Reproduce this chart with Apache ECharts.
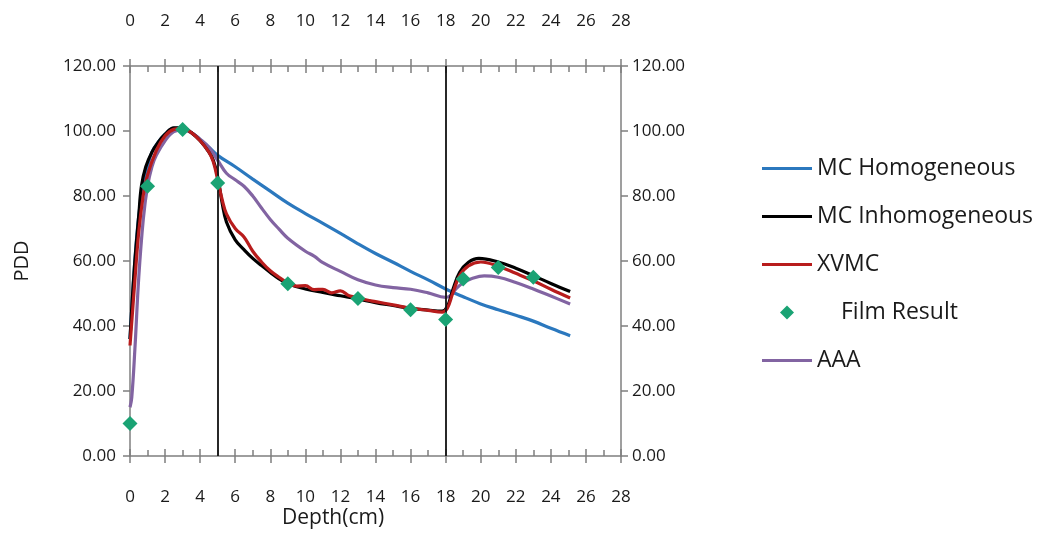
<!DOCTYPE html>
<html>
<head>
<meta charset="utf-8">
<script src="https://cdn.jsdelivr.net/npm/echarts@6/dist/echarts.min.js"></script>
<style>html,body{margin:0;padding:0;background:#fff;}#c{width:1040px;height:538px;}</style>
</head>
<body>
<div id="c"></div>
<script>
// ---- data ----
var xTicks = [0, 28, 2];          // min, max, interval of depth axis
var yTicks = [0, 120, 20];        // min, max, interval of PDD axis
var boundaryDepths = [5, 18];

var homDepth = [0, 0.25, 0.5, 0.75, 1, 1.25, 1.6, 2, 2.5, 3, 3.5, 4, 4.5, 5, 6, 7, 8, 9, 10, 11, 12, 13, 14, 15, 16, 17, 18, 19, 20, 21, 22, 23, 24, 25.1];
var homPDD   = [36, 58, 74, 83, 89, 93.5, 96.5, 99, 100.8, 100.8, 99.5, 97.3, 95, 92.5, 89, 85.2, 81.5, 77.8, 74.6, 71.6, 68.5, 65.3, 62.3, 59.6, 56.8, 54.2, 51.4, 49, 46.8, 45, 43.3, 41.5, 39.3, 37];

var inhDepth = [0, 0.25, 0.5, 0.65, 0.9, 1.25, 1.6, 2, 2.5, 3, 3.5, 4, 4.5, 4.75, 5, 5.25, 5.5, 6, 6.5, 7, 7.5, 8, 8.5, 9, 10, 11, 12, 13, 14, 15, 16, 17, 17.8, 18.1, 18.4, 18.8, 19.3, 19.9, 21, 22, 23, 24, 25.1];
var inhPDD   = [36, 58, 74, 83, 89, 93.5, 96.5, 99, 101, 101, 99.5, 97, 93.5, 91, 86, 78, 72, 66.5, 63.5, 60.8, 58.6, 56.5, 54.5, 53, 51.4, 50.3, 49.3, 48.3, 47.2, 46.3, 45.4, 44.9, 44.6, 46, 51, 56.5, 59.6, 60.8, 59.7, 57.8, 55.5, 53.1, 50.6];

var xvmcDepth = [0, 0.25, 0.5, 0.75, 1, 1.5, 2, 2.5, 3, 3.5, 4, 4.5, 4.75, 5, 5.25, 5.5, 6, 6.5, 7, 7.5, 8, 8.5, 9, 9.5, 10, 10.5, 11, 11.5, 12, 12.5, 13, 13.5, 14, 15, 16, 17, 17.8, 18.1, 18.4, 18.8, 19.3, 20, 21, 22, 23, 24, 25.1];
var xvmcPDD   = [34, 52, 69, 80, 86.5, 94, 98.5, 100.5, 100.8, 99.5, 97, 93.5, 90.5, 85, 79, 74.5, 70, 67.4, 63, 59.7, 57, 55, 53.2, 52.3, 52.4, 51.2, 51.3, 50.2, 50.8, 49.3, 48.8, 48, 47.5, 46.5, 45.5, 44.8, 44.3, 45.5, 50, 55.5, 58.5, 59.7, 58.4, 56.2, 53.9, 51.3, 48.6];

var filmDepth = [0, 1, 3, 5, 9, 13, 16, 18, 19, 21, 23];
var filmPDD   = [10, 83, 100.5, 84, 53, 48.5, 45, 42, 54.5, 58, 55];

var aaaDepth = [0, 0.1, 0.28, 0.5, 0.76, 1, 1.25, 1.5, 2, 2.5, 3, 3.5, 4, 4.5, 5, 5.5, 6, 6.5, 7, 7.5, 8, 8.5, 9, 10, 10.5, 11, 12, 13, 14, 15, 16, 17, 18, 18.3, 18.6, 19, 19.5, 20.2, 21, 22, 23, 24, 25.1];
var aaaPDD   = [15, 18, 33, 55, 73, 83, 89, 92.5, 97, 99.8, 100.3, 99.5, 97.5, 95, 91, 87, 85, 83, 80, 76.3, 72.8, 69.8, 67, 63, 61.5, 59.5, 56.8, 54.2, 52.6, 51.8, 51.3, 50.2, 48.8, 49.5, 51.5, 53.3, 54.6, 55.4, 55, 53.4, 51.4, 49.2, 46.8];

var seriesNames = ['MC Homogeneous', 'MC Inhomogeneous', 'XVMC', 'Film Result', 'AAA'];
var seriesColors = ['#2b78be', '#000000', '#b81c1c', '#1aa374', '#8264a2'];

function pairs(xs, ys) { return xs.map(function (x, i) { return [x, ys[i]]; }); }

var FONT = 'Open Sans';
var TXT = '#1a1a1a';
var AX = '#7f7f7f';
var gridRect = { left: 130, right: 419, top: 66, bottom: 82 };

function xAxisBase(grid, pos, outer) {
  return {
    type: 'value', gridIndex: grid, position: pos,
    min: xTicks[0], max: xTicks[1], interval: xTicks[2],
    splitLine: { show: false },
    axisLine: { show: outer, onZero: false, lineStyle: { color: AX, width: 1.5 } },
    axisTick: { show: true, inside: !outer, length: 7, lineStyle: { color: AX, width: 1.5 } },
    minorTick: { show: !outer, splitNumber: 2, length: 6, lineStyle: { color: AX, width: 1.5 } },
    axisLabel: { show: outer, color: TXT, fontFamily: FONT, fontSize: 17, margin: pos === 'top' ? 36 : 33 }
  };
}
function yAxisBase(grid, pos, show) {
  return {
    type: 'value', gridIndex: grid, position: pos,
    min: yTicks[0], max: yTicks[1], interval: yTicks[2],
    splitLine: { show: false },
    axisLine: { show: show, onZero: false, lineStyle: { color: AX, width: 1.5 } },
    axisTick: { show: show, length: 7, lineStyle: { color: AX, width: 1.5 } },
    axisLabel: { show: show, color: TXT, fontFamily: FONT, fontSize: 17, margin: pos === 'left' ? 14 : 11,
      formatter: function (v) { return v.toFixed(2); } }
  };
}

var yLeft = yAxisBase(0, 'left', true);
yLeft.name = 'PDD';
yLeft.nameLocation = 'middle';
yLeft.nameGap = 98;
yLeft.nameTextStyle = { color: TXT, fontFamily: FONT, fontSize: 20 };

function lineSeries(idx, xs, ys) {
  return {
    name: seriesNames[idx], type: 'line', xAxisIndex: 0, yAxisIndex: 0,
    data: pairs(xs, ys), showSymbol: false, symbol: 'none', smooth: 0.4,
    lineStyle: { color: seriesColors[idx], width: 3.2 }, itemStyle: { color: seriesColors[idx] },
    z: 3
  };
}

var sHom = lineSeries(0, homDepth, homPDD);
var sInh = lineSeries(1, inhDepth, inhPDD);
var sXv = lineSeries(2, xvmcDepth, xvmcPDD);
var sAaa = lineSeries(4, aaaDepth, aaaPDD);
sHom.z = 2; sAaa.z = 2.5; sInh.z = 3; sXv.z = 3.5;
sHom.markLine = {
  silent: true, symbol: 'none', label: { show: false },
  lineStyle: { color: '#111', width: 1.8, type: 'solid' },
  data: boundaryDepths.map(function (d) { return { xAxis: d }; })
};
var sFilm = {
  name: seriesNames[3], type: 'scatter', xAxisIndex: 0, yAxisIndex: 0,
  data: pairs(filmDepth, filmPDD), symbol: 'diamond', symbolSize: 15,
  itemStyle: { color: seriesColors[3], opacity: 1 }, z: 5
};

var LINE_ICON = 'path://M0,0 L50,0 L50,3 L0,3 Z';
var DIAMOND_ICON = 'path://M7,0 L14,7 L7,14 L0,7 Z';

var chart = echarts.init(document.getElementById('c'), null, { renderer: 'canvas' });
chart.setOption({
  animation: false,
  backgroundColor: '#fff',
  grid: [
    Object.assign({}, gridRect, { containLabel: false }),
    Object.assign({}, gridRect, { containLabel: false })
  ],
  xAxis: [xAxisBase(0, 'bottom', true), xAxisBase(0, 'top', true), xAxisBase(1, 'bottom', false), xAxisBase(1, 'top', false)],
  yAxis: [yLeft, yAxisBase(0, 'right', true), yAxisBase(1, 'left', false)],
  legend: {
    orient: 'vertical', left: 757, top: 152,
    itemWidth: 50, itemHeight: 14, itemGap: 25, symbolKeepAspect: true,
    textStyle: { color: TXT, fontFamily: FONT, fontSize: 23, lineHeight: 23 },
    data: [
      { name: seriesNames[0], icon: LINE_ICON },
      { name: seriesNames[1], icon: LINE_ICON },
      { name: seriesNames[2], icon: LINE_ICON },
      { name: seriesNames[3], icon: DIAMOND_ICON, textStyle: { padding: [0, 0, 0, 24] } },
      { name: seriesNames[4], icon: LINE_ICON }
    ]
  },
  graphic: [{
    type: 'text', left: 282, top: 508,
    style: { text: 'Depth(cm)', fill: TXT, font: '21px "Open Sans"' }
  }],
  series: [sHom, sInh, sXv, sFilm, sAaa]
});
</script>
</body>
</html>
